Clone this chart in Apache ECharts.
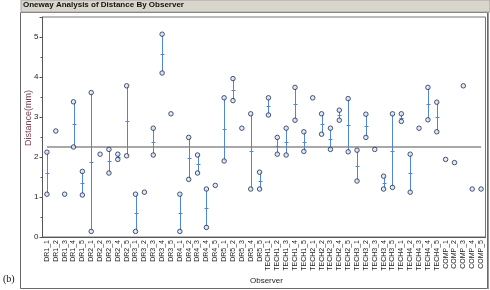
<!DOCTYPE html>
<html><head><meta charset="utf-8">
<script src="https://cdn.jsdelivr.net/npm/echarts@6/dist/echarts.min.js"></script>
<style>html,body{margin:0;padding:0;background:#fff}#c{width:490px;height:290px}</style>
</head><body><div id="c"></div>
<script>
const categories = ["DR1_1","DR1_2","DR1_3","DR1_4","DR1_5","DR2_1","DR2_2","DR2_3","DR2_4","DR2_5",
"DR3_1","DR3_2","DR3_3","DR3_4","DR3_5","DR4_1","DR4_2","DR4_3","DR4_4","DR4_5",
"DR5_1","DR5_2","DR5_3","DR5_4","DR5_5","TECH1_1","TECH1_2","TECH1_3","TECH1_4","TECH1_5",
"TECH2_1","TECH2_2","TECH2_3","TECH2_4","TECH2_5","TECH3_1","TECH3_2","TECH3_3","TECH3_4","TECH3_5",
"TECH4_1","TECH4_2","TECH4_3","TECH4_4","TECH4_5","COMP_1","COMP_2","COMP_3","COMP_4","COMP_5"];
const upperValues = [2.12,2.65,1.07,3.38,1.64,3.61,2.07,2.19,2.07,3.78,
1.07,1.12,2.72,5.07,3.08,1.07,2.49,2.05,1.20,1.29,
3.48,3.96,2.72,3.08,1.62,3.48,2.49,2.72,3.74,2.63,
3.48,3.08,2.72,3.17,3.46,2.17,3.07,2.19,1.52,3.08,
3.08,2.07,2.72,3.74,3.37,1.94,1.86,3.78,1.20,1.20];
const lowerValues = [1.07,null,null,2.25,1.05,0.14,null,1.60,1.94,2.03,
0.14,null,2.05,4.10,null,0.14,1.44,1.60,0.24,null,
1.90,3.41,null,1.20,1.20,3.05,2.07,2.05,2.92,2.14,
null,2.57,2.19,2.92,2.13,1.40,2.49,null,1.20,1.24,
2.89,1.12,null,2.93,2.63,null,null,null,null,null];
const grandMean = 2.25;
const yTicks = [0,1,2,3,4,5];

const pairData = categories.map((c,i)=>[i, upperValues[i], lowerValues[i]]);
const pts = [];
categories.forEach((c,i)=>{ pts.push([i, upperValues[i]]); if(lowerValues[i]!=null) pts.push([i, lowerValues[i]]); });

const chart = echarts.init(document.getElementById('c'), null, {renderer:'canvas'});
chart.setOption({
  animation:false,
  graphic:[
    {type:'rect', shape:{x:20.5,y:12.5,width:467,height:276}, style:{fill:'none',stroke:'#6a6a6a',lineWidth:1}, z:-1},
    {type:'line', shape:{x1:488.5,y1:12,x2:488.5,y2:289}, style:{stroke:'#9a9a9a',lineWidth:1}},
    {type:'rect', shape:{x:21,y:0,width:469,height:12}, style:{fill:'#d8d5cd',stroke:'#a8a49c',lineWidth:1}},
    {type:'text', left:23, top:1, style:{text:'Oneway Analysis of Distance By Observer', font:'bold 8px "Liberation Sans", Arial', fill:'#111'}},
    {type:'text', left:3, top:274, style:{text:'(b)', font:'10px "Liberation Serif", "Times New Roman"', fill:'#111'}},
    {type:'text', left:250, top:277, style:{text:'Observer', font:'8px "Liberation Sans", Arial', fill:'#222'}},
    {type:'text', x:29, y:118, rotation:Math.PI/2, style:{text:'Distance(mm)', font:'9px "Liberation Sans", Arial', fill:'#7a3f55', align:'center', verticalAlign:'middle'}}
  ],
  grid:{left:42.5, right:4.5, top:17, bottom:53, show:true, borderColor:'#777', borderWidth:1, backgroundColor:'#fff'},
  xAxis:{type:'category', data:categories, boundaryGap:true,
    axisLine:{lineStyle:{color:'#555'}}, axisTick:{alignWithLabel:true, length:2, lineStyle:{color:'#555'}},
    axisLabel:{rotate:90, interval:0, fontSize:7, margin:3, color:'#222', fontFamily:'Liberation Sans'}},
  yAxis:{type:'value', min:0, max:5.5, interval:1,
    axisLine:{show:true, lineStyle:{color:'#555'}}, axisTick:{show:true, length:3, lineStyle:{color:'#555'}},
    minorTick:{show:true, splitNumber:2, length:2, lineStyle:{color:'#555'}},
    splitLine:{show:false},
    axisLabel:{fontSize:8, margin:4, color:'#222', fontFamily:'Liberation Sans',
      formatter:v=> yTicks.includes(v)? String(v):''}},
  series:[
    {type:'line', data:categories.map(()=>grandMean), symbol:'none', silent:true,
      lineStyle:{color:'#a8a8a8', width:2}, z:1},
    {type:'custom', data:pairData, z:2, renderItem:(params, api)=>{
      const i = api.value(0), hi = api.value(1), lo = api.value(2);
      if (lo == null || isNaN(lo)) return null;
      const p1 = api.coord([i, hi]), p2 = api.coord([i, lo]);
      const pm = api.coord([i, (hi+lo)/2]);
      return {type:'group', children:[
        {type:'line', shape:{x1:Math.round(p1[0])+0.5,y1:p1[1],x2:Math.round(p1[0])+0.5,y2:p2[1]}, style:{stroke:'#4f86d8',lineWidth:1}},
        {type:'line', shape:{x1:Math.round(pm[0])-1.5,y1:Math.round(pm[1])+0.5,x2:Math.round(pm[0])+2.5,y2:Math.round(pm[1])+0.5}, style:{stroke:'#4f86d8',lineWidth:1}}
      ]};
    }},
    {type:'scatter', data:pts, symbol:'circle', symbolSize:4.5, z:3,
      itemStyle:{color:'#dce6f4', borderColor:'#1d2b55', borderWidth:1}}
  ]
});
</script></body></html>
